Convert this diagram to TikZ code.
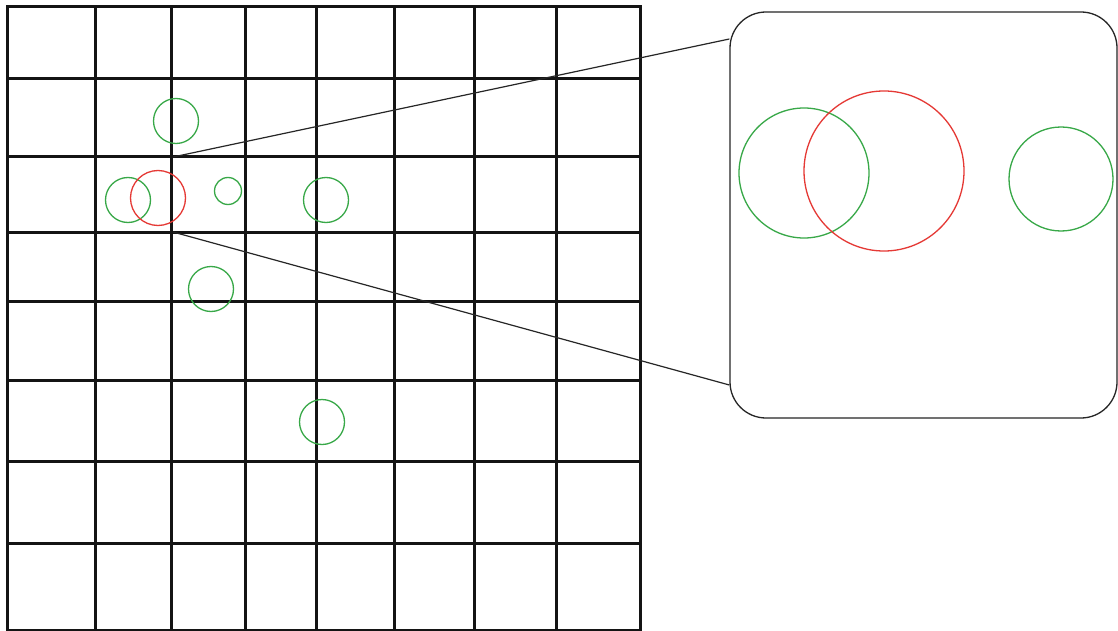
\documentclass[tikz,border=0pt]{standalone}
\begin{document}
\begin{tikzpicture}[x=1pt,y=-1pt,
  gridline/.style={line width=3pt,color=black!92,line cap=rect},
  gc/.style={draw=greenc,line width=1.3pt,circle,inner sep=0pt,minimum size=#1},
  rc/.style={draw=redc,line width=1.3pt,circle,inner sep=0pt,minimum size=#1},
  zoombox/.style={draw=black!85,line width=1.3pt,rounded corners=36pt,inner sep=0pt},
  link/.style={draw=black!85,line width=1.2pt}]
\definecolor{greenc}{RGB}{56,168,72}
\definecolor{redc}{RGB}{229,57,53}
\useasboundingbox (0,0) rectangle (1118,631);
\fill[white] (0,0) rectangle (1118,631);
% grid
\foreach \x in {95,171,245,316,394,474,556} \draw[gridline] (\x,7) -- (\x,628);
\foreach \y in {79,157,232,301,380,461,543} \draw[gridline] (8,\y) -- (640,\y);
\draw[gridline] (7,7) rectangle (640,630);
% small circles
\node[gc=45pt] (g1) at (176,121) {};
\node[gc=45pt] (g2) at (128,200) {};
\node[rc=55pt] (r1) at (158,198) {};
\node[gc=27pt] (g3) at (228,191) {};
\node[gc=45pt] (g4) at (326,200) {};
\node[gc=45pt] (g5) at (211,289) {};
\node[gc=45pt] (g6) at (322,422) {};
% zoom box
\node[zoombox,minimum width=387pt,minimum height=406pt] (box) at (923.5,215) {};
\node[gc=130pt] (G1) at (804,173) {};
\node[rc=160pt] (R1) at (884,171) {};
\node[gc=104pt] (G2) at (1061,179) {};
% connectors
\coordinate (p1) at (173,157);
\coordinate (p2) at (173,232);
\coordinate (q1) at (box.west |- 0,39);
\coordinate (q2) at (box.west |- 0,385);
\draw[link] (p1) -- (q1);
\draw[link] (p2) -- (q2);
\end{tikzpicture}
\end{document}
